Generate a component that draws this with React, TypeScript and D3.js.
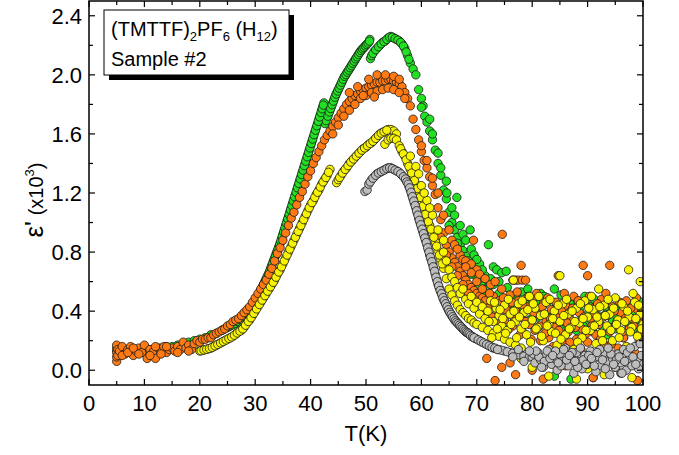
import React from "react";
import * as d3 from "d3";

type P = [number, number];

const xTicks = [0, 10, 20, 30, 40, 50, 60, 70, 80, 90, 100];
const xMinor = [5, 15, 25, 35, 45, 55, 65, 75, 85, 95];
const yTicks = [0.0, 0.4, 0.8, 1.2, 1.6, 2.0, 2.4];
const yMinor = [0.2, 0.6, 1.0, 1.4, 1.8, 2.2];

// ---- green (sweeps + scatter)
const greenMain: P[] = [
  [5,0.13],[6,0.13],[7,0.13],[8,0.13],[9,0.14],[10,0.14],[11,0.14],[12,0.15],[13,0.15],[14,0.16],[15,0.16],[16,0.17],[17,0.18],[18,0.19],[19,0.2],[20,0.21],[21,0.22],[22,0.24],[23,0.25],[24,0.27],[25,0.29],[25.5,0.3],[26,0.31],[26.5,0.32],[27,0.34],[27.5,0.35],[28,0.37],[28.5,0.39],[29,0.41],[29.5,0.44],[30,0.47],[30.5,0.5],[31,0.54],[31.5,0.58],[32,0.62],[32.5,0.66],[33,0.71],[33.5,0.76],[34,0.81],[34.5,0.86],[35,0.92],[35.5,0.98],[36,1.04],[36.5,1.1],[37,1.16],[37.5,1.22],[38,1.28],[38.5,1.34],[39,1.4],[39.5,1.46],[40,1.52],[40.5,1.58],[41,1.64],[41.5,1.7],[42,1.76],[42.4,1.81],
  [42.6,1.67],[43,1.71],[43.5,1.76],[44,1.81],[44.5,1.86],[45,1.9],[45.5,1.94],[46,1.98],[46.5,2.01],[47,2.04],[47.5,2.07],[48,2.1],[48.5,2.13],[49,2.16],[49.5,2.18],[50,2.2],[50.5,2.22],[50.7,2.24],
  [50.8,2.11],[51,2.13],[51.5,2.16],[52,2.18],[52.5,2.2],[53,2.22],[53.5,2.23],[54,2.25],[54.5,2.26],[55,2.25],[55.5,2.24],[56,2.23],[56.5,2.21],[57,2.18],[57.5,2.13],[58,2.08],[58.5,2.04],[59,2.0],[59.5,1.9],[60,1.84],[60.3,1.79],[60.6,1.72],[61,1.68],[61.5,1.62],[62,1.56],[62.5,1.49],[63,1.4],[63.5,1.32],[64,1.22],[64.5,1.16],[65,1.07],[65.5,1.0],[66,0.95],[66.5,0.9],[67,0.85],[67.5,0.81],[68,0.77],[68.5,0.74],[69,0.7],[69.5,0.66],[70,0.63],[70.5,0.6],[71,0.57],[71.5,0.55]
];
const greenFine: P[] = [
  [24.25,0.275],[24.75,0.285],[25.25,0.295],[25.75,0.305],[26.25,0.315],[26.75,0.33],[27.25,0.345],[27.75,0.36],[28.25,0.38],[28.75,0.4],[29.25,0.425],[29.75,0.455],[30.25,0.485],[30.75,0.52],[31.25,0.56],[31.75,0.6],[32.25,0.64],[32.75,0.685],[33.25,0.735],[33.75,0.785],[34.25,0.835],[34.75,0.89],[35.25,0.95],[35.75,1.01],[36.25,1.07],[36.75,1.13],[37.25,1.19],[37.75,1.25],[38.25,1.31],[38.75,1.37],[39.25,1.43],[39.75,1.49],[40.25,1.55],[40.75,1.61],[41.25,1.67],[41.75,1.73],[42.2,1.785],
  [42.8,1.69],[43.25,1.735],[43.75,1.785],[44.25,1.835],[44.75,1.88],[45.25,1.92],[45.75,1.96],[46.25,1.995],[46.75,2.025],[47.25,2.055],[47.75,2.085],[48.25,2.115],[48.75,2.145],[49.25,2.17],[49.75,2.19],[50.25,2.21],
  [51.25,2.145],[51.75,2.17],[52.25,2.19],[52.75,2.21],[53.25,2.225],[53.75,2.24],[54.25,2.255],[54.75,2.255],[55.25,2.245],[55.75,2.235],[56.25,2.22],[56.75,2.195],[57.25,2.155],[57.75,2.105]
];
const greenDense: P[] = [
  [28.125,0.375],[28.375,0.385],[28.625,0.395],[28.875,0.405],[29.125,0.418],[29.375,0.432],[29.625,0.448],[29.875,0.462],[30.125,0.478],[30.375,0.492],[30.625,0.51],[30.875,0.53],[31.125,0.55],[31.375,0.57],[31.625,0.59],[31.875,0.61],[32.125,0.63],[32.375,0.65],[32.625,0.672],[32.875,0.698],[33.125,0.722],[33.375,0.748],[33.625,0.772],[33.875,0.798],[34.125,0.822],[34.375,0.848],[34.625,0.875],[34.875,0.905],[35.125,0.935],[35.375,0.965],[35.625,0.995],[35.875,1.025],[36.125,1.055],[36.375,1.085],[36.625,1.115],[36.875,1.145],[37.125,1.175],[37.375,1.205],[37.625,1.235],[37.875,1.265],[38.125,1.295],[38.375,1.325],[38.625,1.355],[38.875,1.385],[39.125,1.415],[39.375,1.445],[39.625,1.475],[39.875,1.505],[40.125,1.535],[40.375,1.565],[40.625,1.595],[40.875,1.625],[41.125,1.655],[41.375,1.685],[41.625,1.715],[41.875,1.745],[42.1,1.77],[42.3,1.795],
  [43.125,1.72],[43.375,1.748],[43.625,1.772],[43.875,1.798],[44.125,1.822],[44.375,1.848],[44.625,1.87],[44.875,1.89],[45.125,1.91],[45.375,1.93],[45.625,1.95],[45.875,1.97],[46.125,1.99],[46.375,2.002],[46.625,2.018],[46.875,2.032],[47.125,2.048],[47.375,2.062],[47.625,2.078],[47.875,2.092],[48.125,2.108],[48.375,2.122],[48.625,2.138],[48.875,2.152],[49.125,2.165],[49.375,2.175],[49.625,2.185],[49.875,2.195],[50.125,2.205],[50.375,2.215],[50.625,2.228]
];
const greenScatter: P[] = [
  [60,1.78],[61.5,1.7],[62,1.6],[63,1.47],[63.5,1.37],[64.5,1.28],[65.5,1.1],[66,1.05],[67,0.98],[67.5,0.92],[68,0.88],[69,0.82],[69.5,0.78],[70.5,0.72],[71.5,0.64],[72.5,0.6],[73,0.7],[74,0.6],[65,0.98],[66.5,0.86],[68,0.72],[69,0.65],[70,0.56],[71,0.52],
  [64.6,1.2],[66.4,1.17],[68.8,0.95],[72.1,0.85],[73.6,0.68],[74.5,0.66],[75.3,0.67],[70,0.75],[71,0.68],[72.5,0.62],
  [72,0.55],[72.5,0.48],[73,0.58],[73.5,0.44],[74,0.52],[74.5,0.4],[75,0.47],[75.5,0.56],[76,0.42],[76.5,0.5],[77,0.37],[77.5,0.46],[78,0.53],[78.5,0.4],[79,0.45],[79.5,0.34],[80,0.49],[80.5,0.41],[81,0.36],[81.5,0.52],[82,0.44],[82.5,0.31],[83,0.47],[83.5,0.39],[84,0.55],[84.5,0.35],[85,0.43],[85.5,0.29],[86,0.48],[86.5,0.38],[87,0.33],[87.5,0.45],[88,0.27],[88.5,0.41],[89,0.36],[89.5,0.5],[90,0.32],[90.5,0.43],[91,0.26],[91.5,0.39],[92,0.46],[92.5,0.3],[93,0.37],[93.5,0.24],[94,0.42],[94.5,0.33],[95,0.28],[95.5,0.4],[96,0.35],[96.5,0.22],[97,0.38],[97.5,0.3],[98,0.44],[98.5,0.27],[99,0.34],[99.5,0.25],[100,0.36],
  [76.2,0.38],[77.2,0.52],[78.2,0.43],[79.2,0.55],[80.2,0.36],[81.2,0.45],[82.2,0.5],[83.2,0.33],[84.2,0.42],[85.2,0.51],[86.2,0.31],[87.2,0.4],[88.2,0.47],[89.2,0.3],[90.2,0.39],[91.2,0.48],[92.2,0.35],[93.2,0.43],[94.2,0.29],[95.2,0.37],[96.2,0.45],[97.2,0.32],[98.2,0.39],[99.2,0.47],
  [84,-0.04],[87,-0.06],[91,-0.05],[95,0.02]
];

// ---- orange
const orangeMain: P[] = [
  [5,0.06],[5,0.09],[5,0.12],[5,0.15],[5,0.17],[5.2,0.1],[5.2,0.14],
  [5.5,0.13],[6,0.16],[6.5,0.11],[7,0.14],[7.5,0.16],[8,0.1],[8.5,0.13],[9,0.15],[9.5,0.12],[10,0.17],[10.5,0.08],[11,0.14],[11.5,0.12],[12,0.08],[12.5,0.15],[13,0.13],[13.5,0.16],[14,0.12],[14.5,0.14],[15,0.15],[15.5,0.13],[16,0.16],[16.5,0.14],[17,0.19],[17.5,0.15],[18,0.17],[18.5,0.14],[19,0.18],[19.5,0.2],[20,0.19],[20.5,0.21],
  [6,0.1],[7,0.12],[8,0.15],[9,0.11],[11,0.1],[12,0.16],[13,0.11],[14,0.16],[16,0.12],[18,0.13],
  [21,0.21],[21.5,0.22],[22,0.22],[22.5,0.24],[23,0.25],[23.5,0.26],[24,0.27],[24.5,0.28],[25,0.3],[25.5,0.31],[26,0.33],[26.5,0.34],[27,0.35],[27.5,0.37],[28,0.39],[28.5,0.41],[29,0.43],[29.5,0.46],[30,0.49],[30.5,0.52],[31,0.55],[31.5,0.58],[32,0.61],[32.5,0.65],[33,0.69],[33.5,0.74],[34,0.79],[34.5,0.83],[35,0.88],[35.5,0.93],[36,0.98],[36.5,1.03],[37,1.07],[37.5,1.12],[38,1.17],[38.5,1.21],[39,1.26],[39.5,1.31],[40,1.35],[40.5,1.4],[41,1.44],[41.5,1.48],[42,1.52],[42.5,1.56],[43,1.59],[43.5,1.62],[44,1.65],[44.5,1.68],[45,1.71],[45.5,1.74],[46,1.77],[46.5,1.8],[47,1.82],[47.5,1.84],[48,1.86],[48.5,1.87],[49,1.89],[49.5,1.9],[50,1.91],[50.5,1.92],[51,1.93],[51.5,1.94],[52,1.95],[52.5,1.95],[53,1.96],[53.5,1.96],[54,1.97],[54.5,1.97],[55,1.96],[55.5,1.95],[56,1.94],[56.5,1.92],[57,1.88],[57.5,1.84],[58,1.79],[58.5,1.7],[59,1.63],[59.5,1.56],[60,1.48],[60.5,1.42],[61,1.37],[61.5,1.31],[62,1.25],[62.5,1.19],[63,1.1],[63.5,1.02],[64,0.93],[64.5,0.85],[65,0.8],[65.5,0.76],[66,0.73],[66.5,0.7],[67,0.67],[67.5,0.64],[68,0.61],[68.5,0.58],[69,0.56],[69.5,0.54],[70,0.52],[70.5,0.5],[71,0.49],[71.5,0.47]
];
const orangeSecond: P[] = [
  [44,1.6],[45,1.66],[46,1.72],[47,1.76],[48,1.8],[49,1.84],[50,1.86],[51,1.88],[52,1.89],[53,1.9],[54,1.91],[55,1.9],[56,1.88],[57,1.84],
  [47,1.88],[48.5,1.92],[50.5,1.97],[52,2.0],[53.5,2.0],[55,1.99],[56,1.97],[49.5,1.86],[51.5,1.85],
  [60,1.52],[61,1.42],[62,1.3],[63,1.2],[64,1.05],[65,0.95],[65.5,0.88],[66,0.85],[67,0.78],[67.5,0.75],[68,0.74],[69,0.72],[70,0.68],[63.5,0.9],[64.5,0.78],[65.5,0.7],[66.5,0.64],[67.5,0.58],[68.5,0.52],[69.5,0.48],[70.5,0.45],[71.5,0.42]
];
const orangeScatter: P[] = [
  [66.5,0.82],[69.4,0.88],[74.6,0.92],[68,0.7],[69,0.66],[70,0.6],[70.5,0.65],[71,0.55],[71.5,0.62],[72,0.42],[72.5,0.58],[73,0.5],[73.5,0.38],[74,0.47],[74.5,0.55],[75,0.34],[75.5,0.44],[76,0.51],[76.5,0.3],[77,0.4],[77.5,0.47],[78,0.71],[78,0.36],[78.5,0.25],[79,0.43],[79.5,0.31],[80,0.48],[80.5,0.27],[81,0.38],[81.5,0.2],[82,0.45],[82.5,0.33],[83,0.22],[83.5,0.41],[84,0.29],[84.7,0.64],[85,0.36],[85.5,0.18],[86,0.44],[86.5,0.26],[87,0.34],[87.5,0.5],[88,0.21],[88.5,0.39],[89.2,0.71],[89,0.28],[89.5,0.46],[90,0.64],[90,0.19],[90.5,0.35],[91,0.42],[91.5,0.24],[92,0.31],[92.5,0.48],[93,0.17],[93.5,0.37],[94,0.71],[94,0.26],[94.5,0.43],[95,0.3],[95.5,0.15],[96,0.39],[96.5,0.22],[97,0.47],[97.5,0.28],[98,0.35],[98.5,0.12],[99,0.41],[99.5,0.25],[100,0.33],
  [76.5,0.61],[77,0.61],[77.5,0.61],[78.2,0.61],[78.8,0.61],
  [72.3,0.52],[72.8,0.36],[73.3,0.6],[73.8,0.45],[74.3,0.31],[74.8,0.49],[75.3,0.41],[75.8,0.28],[76.3,0.46],[76.8,0.35],[77.3,0.53],[77.8,0.24],[78.3,0.44],[78.8,0.33],[79.3,0.5],[79.8,0.21],[80.3,0.39],[80.8,0.52],[81.3,0.3],[81.8,0.43],[82.3,0.25],[82.8,0.49],[83.3,0.35],[83.8,0.16],[84.3,0.46],[84.8,0.27],[85.3,0.4],[85.8,0.52],[86.3,0.32],[86.8,0.19],[87.3,0.42],[87.8,0.29],[88.3,0.47],[88.8,0.14],[89.3,0.36],[89.8,0.25],[90.3,0.5],[90.8,0.3],[91.3,0.38],[91.8,0.45],[92.3,0.21],[92.8,0.36],[93.3,0.52],[93.8,0.29],[94.3,0.18],[94.8,0.4],[95.3,0.33],[95.8,0.46],[96.3,0.26],[96.8,0.35],[97.3,0.13],[97.8,0.42],[98.3,0.3],[98.8,0.49],[99.3,0.2],[99.8,0.37],
  [71.8,0.08],[73.3,-0.07],[74.5,0.02],[76,0.05],[77,-0.03],[80,0.0],[82,-0.06],[86,0.03],[91,-0.05],[96,-0.02],[99,-0.07]
];

// ---- yellow
const yellowMain: P[] = [
  [20,0.13],[20.5,0.135],[21,0.14],[21.5,0.145],[22,0.15],[22.5,0.16],[23,0.17],[23.5,0.18],[24,0.19],[24.5,0.2],[25,0.21],[25.5,0.22],[26,0.23],[26.5,0.245],[27,0.26],[27.5,0.27],[28,0.29],[28.5,0.32],[29,0.34],[29.5,0.37],[30,0.4],[30.5,0.43],[31,0.46],[31.5,0.49],[32,0.52],[32.5,0.55],[33,0.58],[33.5,0.61],[34,0.65],[34.5,0.68],[35,0.72],[35.5,0.76],[36,0.8],[36.5,0.84],[37,0.88],[37.5,0.92],[38,0.96],[38.5,1.0],[39,1.04],[39.5,1.08],[40,1.12],[40.5,1.15],[41,1.19],[41.5,1.22],[42,1.26],[42.5,1.29],[43,1.32],[43.5,1.36],
  [44.7,1.27],[45,1.29],[45.5,1.32],[46,1.35],[46.5,1.37],[47,1.4],[47.5,1.42],[48,1.44],[48.5,1.46],[49,1.48],[49.5,1.5],[50,1.51],[50.5,1.53],[51,1.54],[51.5,1.56],[52,1.58],[52.5,1.6],[53,1.61],[53.5,1.62],[54,1.63],[54.5,1.63],[55,1.62],[55.5,1.6],
  [53.4,1.53],[54,1.56],[54.5,1.57],[55,1.57],[55.5,1.56],[56,1.52],[56.5,1.48],[57,1.45],[57.5,1.4],[58,1.36],[58.5,1.31],[59,1.26],[59.5,1.2],[60,1.14],[60.5,1.08],[61,1.03],[61.5,0.98],[62,0.93],[62.5,0.87],[63,0.81],[63.5,0.75],[64,0.69],[64.5,0.62],[65,0.55],[65.5,0.51],[66,0.47],[66.5,0.44],[67,0.41],[67.5,0.39],[68,0.37],[68.5,0.35],[69,0.34],[69.5,0.32],[70,0.31],[71,0.29],[72,0.27],[73,0.25],[74,0.23],[75,0.21],[76,0.19],[77,0.17],[78,0.15]
];
const yellowFine: P[] = [
  [20.25,0.132],[20.75,0.137],[21.25,0.142],[21.75,0.147],[22.25,0.155],[22.75,0.165],[23.25,0.175],[23.75,0.185],[24.25,0.195],[24.75,0.205],[25.25,0.215],[25.75,0.225],[26.25,0.237],[26.75,0.252],[27.25,0.265],[27.75,0.28],[28.25,0.305],[28.75,0.33],[29.25,0.355],[29.75,0.385],[30.25,0.415],[30.75,0.445],[31.25,0.475],[31.75,0.505],[32.25,0.535],[32.75,0.565],[33.25,0.595],[33.75,0.63],[34.25,0.665],[34.75,0.7],[35.25,0.74],[35.75,0.78],[36.25,0.82],[36.75,0.86],[37.25,0.9],[37.75,0.94],[38.25,0.98],[38.75,1.02],[39.25,1.06],[39.75,1.1],[40.25,1.135],[40.75,1.17],[41.25,1.205],[41.75,1.24],[42.25,1.275],[42.75,1.305],[43.25,1.34],
  [45.25,1.305],[45.75,1.335],[46.25,1.36],[46.75,1.385],[47.25,1.41],[47.75,1.43],[48.25,1.45],[48.75,1.47],[49.25,1.49],[49.75,1.505],[50.25,1.52],[50.75,1.535],[51.25,1.55],[51.75,1.57],[52.25,1.59],[52.75,1.605],[53.25,1.615],[53.75,1.625],
  [56.25,1.5],[56.75,1.465],[57.25,1.425],[57.75,1.38],[58.25,1.335],[58.75,1.285],[59.25,1.23],[59.75,1.17],[60.25,1.11],[60.75,1.055],[61.25,1.005],[61.75,0.955],[62.25,0.9],[62.75,0.84],[63.25,0.78],[63.75,0.72],
  [58,1.45],[59,1.38],[59.5,1.33],[60,1.25],[61,1.15],[62,1.05],[63,0.95],[64,0.88],[60.5,1.2],[61.5,1.1]
];
const yellowScatter: P[] = [
  [64,0.8],[64.5,0.74],[65,0.68],[65.5,0.63],[66,0.6],[66.5,0.56],[67,0.52],[67.5,0.55],[68,0.48],[68.5,0.45],[69,0.5],[69.5,0.42],[70,0.46],[70.5,0.38],[71,0.43],[71.5,0.35],[72,0.4],[72.5,0.47],[73,0.33],[73.5,0.42],[74,0.37],[74.5,0.3],[75,0.44],[75.5,0.27],[76,0.38],[76.6,0.61],[77,0.33],[77.5,0.45],[78,0.28],[78.5,0.39],[79,0.24],[79.5,0.5],[80,0.34],[80.5,0.42],[81,0.29],[81.5,0.37],[82,0.2],[82.5,0.46],[83,0.31],[83.5,0.26],[84,0.4],[84.5,0.17],[85,0.64],[85,0.33],[85.5,0.45],[86,0.24],[86.5,0.38],[87,0.29],[87.5,0.14],[88,0.42],[88.5,0.32],[89,0.22],[89.5,0.47],[90,0.36],[90.5,0.27],[91,0.41],[91.5,0.18],[92,0.55],[92,0.33],[92.5,0.25],[93,0.44],[93.5,0.3],[94,0.38],[94.5,0.2],[95,0.49],[95.5,0.34],[96,0.27],[96.5,0.43],[97,0.16],[97.4,0.68],[97.5,0.36],[98,0.29],[98.5,0.46],[99,0.23],[99.5,0.6],[99.5,0.38],[100,0.31],
  [72.2,0.33],[72.7,0.22],[73.2,0.46],[73.7,0.28],[74.2,0.41],[74.7,0.35],[75.2,0.25],[75.7,0.48],[76.2,0.31],[76.7,0.4],[77.2,0.22],[77.7,0.36],[78.2,0.47],[78.7,0.31],[79.2,0.41],[79.7,0.19],[80.2,0.45],[80.7,0.28],[81.2,0.5],[81.7,0.23],[82.2,0.38],[82.7,0.3],[83.2,0.48],[83.7,0.35],[84.2,0.25],[84.7,0.44],[85.2,0.21],[85.7,0.37],[86.2,0.48],[86.7,0.28],[87.2,0.4],[87.7,0.33],[88.2,0.19],[88.7,0.45],[89.2,0.35],[89.7,0.27],[90.2,0.42],[90.7,0.5],[91.2,0.3],[91.7,0.36],[92.2,0.43],[92.7,0.2],[93.2,0.37],[93.7,0.48],[94.2,0.27],[94.7,0.42],[95.2,0.31],[95.7,0.22],[96.2,0.45],[96.7,0.33],[97.2,0.4],[97.7,0.26],[98.2,0.52],[98.7,0.35],[99.2,0.44],[99.7,0.28],
  [78,0.08],[80,0.02],[83,-0.04],[86,0.06],[88,-0.06],[90,0.01],[93,-0.03],[95,0.08],[98,-0.05],[100,0.03]
];

// ---- gray
const grayMain: P[] = [
  [49.8,1.21],[50.2,1.22],[50.5,1.26],[51,1.29],[51.5,1.31],[52,1.33],[52.5,1.34],[53,1.35],[53.5,1.36],[54,1.37],[54.5,1.37],[55,1.36],[55.5,1.35],[56,1.34],[56.5,1.32],[57,1.3],[57.5,1.27],[58,1.22],[58.5,1.16],[59,1.1],[59.5,1.03],[60,0.97],[60.5,0.91],[61,0.85],[61.5,0.78],[62,0.72],[62.5,0.65],[63,0.58],[63.5,0.53],[64,0.48],[64.5,0.44],[65,0.4],[65.5,0.37],[66,0.34],[66.5,0.32],[67,0.3],[67.5,0.28],[68,0.26],[68.5,0.25],[69,0.23],[69.5,0.22],[70,0.21],[71,0.19],[72,0.17],[73,0.15],[74,0.14],[75,0.13],[76,0.12],[77,0.11],[78,0.1],[79,0.09]
];
const grayFine: P[] = [
  [50.75,1.275],[51.25,1.3],[51.75,1.32],[52.25,1.335],[52.75,1.345],[53.25,1.355],[53.75,1.365],[54.25,1.37],[54.75,1.365],[55.25,1.355],[55.75,1.345],[56.25,1.33],[56.75,1.31],[57.25,1.285],[57.75,1.245],[58.25,1.19],[58.75,1.13],[59.25,1.065],[59.75,1.0],[60.25,0.94],[60.75,0.88],[61.25,0.815],[61.75,0.75],[62.25,0.685],[62.75,0.615],[63.25,0.555],[63.75,0.505],[64.25,0.46],[64.75,0.42],[65.25,0.385],[65.75,0.355],[66.25,0.33],[66.75,0.31],[67.25,0.29],[67.75,0.27],[68.25,0.255],[68.75,0.24],[69.25,0.225],[69.75,0.215],[70.5,0.2],[71.5,0.18],[72.5,0.16],[73.5,0.145],[74.5,0.135],[75.5,0.125],[76.5,0.115],[77.5,0.105],[78.5,0.095],[79.5,0.09]
];
const grayDense: P[] = [
  [57.125,1.295],[57.375,1.275],[57.625,1.26],[57.875,1.235],[58.125,1.205],[58.375,1.175],[58.625,1.145],[58.875,1.115],[59.125,1.08],[59.375,1.05],[59.625,1.015],[59.875,0.985],[60.125,0.955],[60.375,0.925],[60.625,0.895],[60.875,0.865],[61.125,0.83],[61.375,0.8],[61.625,0.765],[61.875,0.735],[62.125,0.7],[62.375,0.67],[62.625,0.63],[62.875,0.6],[63.125,0.57],[63.375,0.54],[63.625,0.518],[63.875,0.492],[64.125,0.47],[64.375,0.45],[64.625,0.43],[64.875,0.41],[65.125,0.392],[65.375,0.378],[65.625,0.362],[65.875,0.348],[66.125,0.335],[66.375,0.325],[66.625,0.315],[66.875,0.305],[67.125,0.295],[67.375,0.285],[67.625,0.275],[67.875,0.265],[68.125,0.258],[68.375,0.252],[68.625,0.245],[68.875,0.235],[69.25,0.228],[69.5,0.22],[70.25,0.205],[70.75,0.195],[71.25,0.185],[71.75,0.175],[72.25,0.165],[72.75,0.155],[73.25,0.15],[73.75,0.14]
];
const grayScatter: P[] = [
  [80,0.09],[80.5,0.05],[81,0.12],[81.5,0.07],[82,0.02],[82.5,0.1],[83,0.14],[83.5,0.04],[84,0.08],[84.5,0.0],[85,0.11],[85.5,0.06],[86,0.15],[86.5,0.03],[87,0.09],[87.5,-0.02],[88,0.12],[88.5,0.06],[89,0.01],[89.5,0.1],[90,0.04],[90.5,0.13],[91,0.07],[91.5,-0.01],[92,0.09],[92.5,0.03],[93,0.12],[93.5,0.06],[94,-0.03],[94.5,0.08],[95,0.02],[95.5,0.11],[96,0.05],[96.5,0.14],[97,0.0],[97.5,0.08],[98,0.03],[98.5,0.16],[99,0.06],[99.5,0.18],[100,0.04],
  [80.2,0.11],[81.2,0.09],[82.2,0.06],[83.2,0.08],[84.2,0.13],[85.2,0.03],[86.2,0.07],[87.2,0.12],[88.2,0.02],[89.2,0.07],[90.2,0.1],[91.2,0.03],[92.2,0.14],[93.2,0.01],[94.2,0.11],[95.2,0.07],[96.2,-0.02],[97.2,0.12],[98.2,0.09],[99.2,0.01],
  [80.7,0.13],[81.7,0.02],[82.7,0.13],[83.7,0.1],[84.7,0.05],[85.7,0.14],[86.7,0.1],[87.7,0.06],[88.7,0.15],[89.7,0.04],[90.7,0.08],[91.7,0.12],[92.7,0.07],[93.7,0.15],[94.7,0.04],[95.7,0.09],[96.7,0.06],[97.7,0.15],[98.7,0.04],[99.7,0.1],[79.5,0.13],[78.5,0.06],[77.5,0.14],[76.5,0.09]
];

const series = [
  { name: "green", data: [...greenMain, ...greenFine, ...greenDense, ...greenScatter], fill: "#22e022" },
  { name: "orange", data: [...orangeMain, ...orangeSecond, ...orangeScatter], fill: "#ff7a12" },
  { name: "yellow", data: [...yellowMain, ...yellowFine, ...yellowScatter], fill: "#f8f400" },
  { name: "gray", data: [...grayMain, ...grayFine, ...grayDense, ...grayScatter], fill: "#bdbdbd" },
];

const W = 679, H = 455;
const L = 89, R = 643, T = 1, B = 385;

export default function App() {
  const x = d3.scaleLinear().domain([0, 100]).range([L, R]);
  const y = d3.scaleLinear().domain([-0.1, 2.5]).range([B, T]);
  const font = "'Liberation Sans', Arial, sans-serif";
  return (
    <svg width={W} height={H} style={{ position: "absolute", left: 0, top: 0, background: "#fff" }} fontFamily={font}>
      <defs>
        <clipPath id="plot"><rect x={L} y={T} width={R - L} height={B - T} /></clipPath>
      </defs>
      <g clipPath="url(#plot)">
        {series.map((s) => (
          <g key={s.name}>
            {s.data.map((d, i) => (
              <circle key={i} cx={x(d[0])} cy={y(d[1])} r={4.2} fill={s.fill} stroke="#1a1a1a" strokeWidth={0.8} />
            ))}
          </g>
        ))}
      </g>
      <rect x={L} y={T} width={R - L} height={B - T} fill="none" stroke="#000" strokeWidth={1.5} />
      {xTicks.map((t) => (
        <g key={"xt" + t}>
          <line x1={x(t)} x2={x(t)} y1={B} y2={B - 6} stroke="#000" strokeWidth={1.2} />
          <line x1={x(t)} x2={x(t)} y1={T} y2={T + 6} stroke="#000" strokeWidth={1.2} />
          <text x={x(t)} y={411} fontSize={22} textAnchor="middle">{t}</text>
        </g>
      ))}
      {xMinor.map((t) => (
        <g key={"xm" + t}>
          <line x1={x(t)} x2={x(t)} y1={B} y2={B - 4} stroke="#000" strokeWidth={1.2} />
          <line x1={x(t)} x2={x(t)} y1={T} y2={T + 4} stroke="#000" strokeWidth={1.2} />
        </g>
      ))}
      {yTicks.map((t) => (
        <g key={"yt" + t}>
          <line x1={L} x2={L + 6} y1={y(t)} y2={y(t)} stroke="#000" strokeWidth={1.2} />
          <line x1={R} x2={R - 6} y1={y(t)} y2={y(t)} stroke="#000" strokeWidth={1.2} />
          <text x={82} y={y(t) + 8} fontSize={22} textAnchor="end">{t.toFixed(1)}</text>
        </g>
      ))}
      {yMinor.map((t) => (
        <g key={"ym" + t}>
          <line x1={L} x2={L + 4} y1={y(t)} y2={y(t)} stroke="#000" strokeWidth={1.2} />
          <line x1={R} x2={R - 4} y1={y(t)} y2={y(t)} stroke="#000" strokeWidth={1.2} />
        </g>
      ))}
      <text x={(L + R) / 2} y={441} fontSize={22} textAnchor="middle">T(K)</text>
      <text transform="rotate(-90)" x={-200} y={43} textAnchor="middle">
        <tspan fontSize={26}>ε'</tspan>
        <tspan fontSize={20}> (x10</tspan>
        <tspan fontSize={13} dy={-9}>3</tspan>
        <tspan fontSize={20} dy={9}>)</tspan>
      </text>
      <rect x={109} y={15} width={185} height={65} fill="#000" />
      <rect x={104} y={10} width={185} height={65} fill="#fff" stroke="#000" strokeWidth={1} />
      <text x={111} y={36} fontSize={20}>
        <tspan>(TMTTF)</tspan>
        <tspan fontSize={13} dy={5}>2</tspan>
        <tspan dy={-5}>PF</tspan>
        <tspan fontSize={13} dy={5}>6</tspan>
        <tspan dy={-5}> (H</tspan>
        <tspan fontSize={13} dy={5}>12</tspan>
        <tspan dy={-5}>)</tspan>
      </text>
      <text x={111} y={66} fontSize={20}>Sample #2</text>
    </svg>
  );
}
